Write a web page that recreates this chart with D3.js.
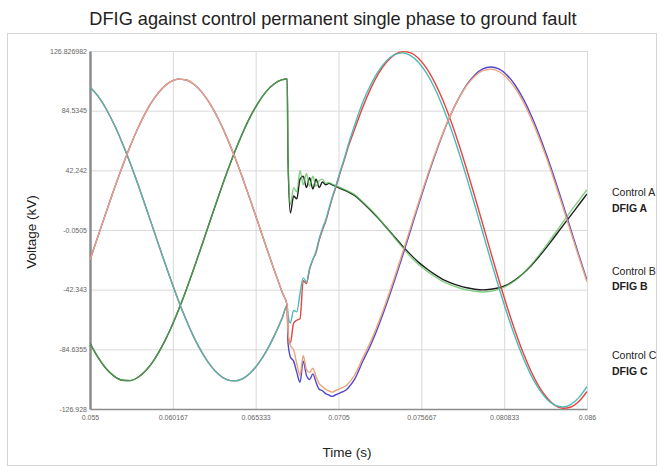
<!DOCTYPE html>
<html>
<head>
<meta charset="utf-8">
<script src="https://cdn.jsdelivr.net/npm/d3@7/dist/d3.min.js"></script>
<style>
  html, body { margin: 0; padding: 0; background: #ffffff; }
  svg { display: block; font-family: "Liberation Sans", Arial, sans-serif; }
</style>
</head>
<body>
<svg id="chart" width="664" height="472"></svg>
<script>
// ---- data -------------------------------------------------------------
// Pre-fault samples (seconds / kV): control and DFIG coincide here
const preTime = [0.0550,0.0555,0.0560,0.0565,0.0570,0.0575,0.0580,0.0585,0.0590,0.0595,
                 0.0600,0.0605,0.0610,0.0615,0.0620,0.0625,0.0630,0.0635,0.0640,0.0645,
                 0.0650,0.0655,0.0660,0.0665,0.0670,0.0673];
const preA = [-80.3,-90.3,-98.2,-103.6,-106.5,-106.8,-104.4,-99.5,-92.1,-82.4,
              -70.8,-57.3,-42.5,-26.6,-10.1,6.7,23.3,39.4,54.5,68.2,
              80.3,90.3,98.2,103.6,106.5,107.0];
const preB = [101.4,94.8,85.9,74.9,62.0,47.6,32.0,15.6,-1.1,-17.8,
              -34.1,-49.6,-63.8,-76.5,-87.2,-95.8,-102.1,-105.9,-107.0,-105.5,
              -101.4,-94.8,-85.9,-74.9,-62.0,-53.5];
const preC = [-21.2,-4.5,12.3,28.8,44.5,59.2,72.4,83.9,93.2,100.3,
              104.9,106.9,106.3,103.1,97.3,89.1,78.8,66.5,52.5,37.3,
              21.2,4.5,-12.3,-28.8,-44.5,-53.5];

// Post-fault samples
const postTime = [0.06735,0.0675,0.0677,0.0679,0.0681,0.0683,0.0685,0.0687,0.0689,0.0691,
                  0.0693,0.0695,0.0697,0.0699,0.0701,0.0703,0.0705,0.0707,0.0709,0.0711,
                  0.0715,0.0720,0.0725,0.0730,0.0735,0.0740,0.0745,0.0750,0.0755,0.0760,
                  0.0765,0.0770,0.0775,0.0780,0.0785,0.0790,0.0795,0.0800,0.0805,0.0810,
                  0.0815,0.0820,0.0825,0.0830,0.0835,0.0840,0.0845,0.0850,0.0855,0.0860];
const postControlA = [50,18,30,27,42,32,40,31,38,31,35,36,33,33.5,32.5,31.5,30.5,29.5,28.5,27.5,
                      25,20,14.5,8.5,1.5,-5.5,-12.5,-19,-24.5,-29,-33,-36.5,-39,-41,-42.5,-43.5,
                      -44,-43.5,-42,-39.5,-36,-31,-25,-18,-10.5,-2.5,5.5,13.5,21,28.5];
const postDfigA = [50,12,24,22,36,38,30,37,29,36,30,34,32,33,32,31,30,29,28,27,
                   24.5,19.5,14,8,1.5,-5,-11.5,-17.5,-23,-27.5,-31.5,-35,-37.5,-39.5,-41,-42,
                   -42.5,-42,-41,-39,-35.5,-31,-25.5,-19,-12,-4.5,3,10.5,18,25.5];
const postControlB = [-60,-66,-57,-58,-45,-34,-37,-27,-21,-15,-6,1,7,15,23,30,37.5,45,52,60,
                      74,90.1,102.7,112.7,120.0,124.2,125.5,123.6,118.7,110.9,100.4,87.3,72.2,55.2,36.9,17.7,
                      -2.0,-21.6,-40.6,-58.7,-75.4,-90.1,-102.7,-112.7,-120.0,-124.2,-125.5,-123.6,-118.7,-110.9];
const postDfigB = [-75,-80,-66,-64,-63,-36,-38,-28,-21,-16,-7,0,6,14,22,29,36.5,44,51,58.5,
                   71.1,86.6,100.0,110.9,119.0,124.3,126.4,125.5,121.5,114.5,104.6,92.2,77.5,60.9,42.8,23.7,
                   4.0,-15.9,-35.3,-53.9,-71.1,-86.6,-100.0,-110.9,-119.0,-124.3,-126.4,-125.5,-121.5,-114.5];
const postControlC = [-72,-82,-85,-95,-103,-89,-99,-101,-98,-104,-109,-111,-113,-114,-115,-114,-113,-112,-111,-109,
                      -103,-91.2,-79.3,-65.6,-50.2,-33.5,-16.1,1.8,19.6,36.9,53.3,68.4,81.9,93.3,102.4,109.0,
                      112.9,114.0,112.3,107.9,100.8,91.2,79.3,65.6,50.2,33.5,16.1,-1.8,-19.6,-36.9];
const postDfigC = [-80,-90,-93,-101,-108,-93,-103,-106,-102,-108,-113,-114,-116,-117,-118,-117,-116,-115,-114,-112,
                   -106,-93.4,-81.7,-67.9,-52.4,-35.7,-18.1,0,18.1,35.7,52.4,67.9,81.7,93.4,102.9,109.9,
                   114.1,115.5,114.1,109.9,102.9,93.4,81.7,67.9,52.4,35.7,18.1,0,-18.1,-35.7];

const seriesNames = ["Control A", "DFIG A", "Control B", "DFIG B", "Control C", "DFIG C"];
const xTickValues = [0.055, 0.060167, 0.065333, 0.0705, 0.075667, 0.080833, 0.086];
const xTickLabels = ["0.055", "0.060167", "0.065333", "0.0705", "0.075667", "0.080833", "0.086"];
const yTickValues = [126.826982, 84.5345, 42.242, -0.0505, -42.343, -84.6355, -126.928];
const yTickLabels = ["126.826982", "84.5345", "42.242", "-0.0505", "-42.343", "-84.6355", "-126.928"];

// ---- layout -----------------------------------------------------------
const svg = d3.select("#chart");
const plot = { left: 90, right: 587, top: 51, bottom: 409 };

const x = d3.scaleLinear().domain([0.055, 0.086]).range([plot.left, plot.right]);
const y = d3.scaleLinear().domain([-126.928, 126.826982]).range([plot.bottom, plot.top]);

// outer frame
svg.append("rect")
  .attr("x", 7.5).attr("y", 33.5).attr("width", 649).attr("height", 432)
  .attr("fill", "none").attr("stroke", "#d4d4d4").attr("stroke-width", 1);

// title
svg.append("text")
  .attr("x", 333).attr("y", 25)
  .attr("text-anchor", "middle")
  .attr("font-size", 18.2).attr("fill", "#222")
  .text("DFIG against control permanent single phase to ground fault");

// grid lines
const grid = svg.append("g").attr("class", "grid");
grid.append("g")
  .attr("transform", `translate(0,${plot.bottom})`)
  .call(d3.axisBottom(x).tickValues(xTickValues).tickSize(-(plot.bottom - plot.top)).tickFormat(""))
  .call(g => g.select(".domain").remove())
  .call(g => g.selectAll("line").attr("stroke", "#d9d9d9").attr("stroke-width", 1));
grid.append("g")
  .attr("transform", `translate(${plot.left},0)`)
  .call(d3.axisLeft(y).tickValues(yTickValues).tickSize(-(plot.right - plot.left)).tickFormat(""))
  .call(g => g.select(".domain").remove())
  .call(g => g.selectAll("line").attr("stroke", "#d9d9d9").attr("stroke-width", 1));

// axes
const xAxis = svg.append("g")
  .attr("transform", `translate(0,${plot.bottom})`)
  .call(d3.axisBottom(x).tickValues(xTickValues).tickSize(0).tickPadding(6)
        .tickFormat((d, i) => xTickLabels[i]));
xAxis.select(".domain").attr("stroke", "#8c8c8c").attr("stroke-width", 1.5);
xAxis.selectAll("text").attr("font-size", 7).attr("fill", "#666")
  .attr("font-family", "'Liberation Sans', Arial, sans-serif");

const yAxis = svg.append("g")
  .attr("transform", `translate(${plot.left},0)`)
  .call(d3.axisLeft(y).tickValues(yTickValues).tickSize(0).tickPadding(3)
        .tickFormat((d, i) => yTickLabels[i]));
yAxis.select(".domain").attr("stroke", "#8c8c8c").attr("stroke-width", 2.5);
yAxis.selectAll("text").attr("font-size", 7).attr("fill", "#666")
  .attr("font-family", "'Liberation Sans', Arial, sans-serif");

// axis titles
svg.append("text")
  .attr("transform", "translate(36,232) rotate(-90)")
  .attr("text-anchor", "middle")
  .attr("font-size", 13.5).attr("fill", "#222")
  .text("Voltage (kV)");
svg.append("text")
  .attr("x", 347).attr("y", 457)
  .attr("text-anchor", "middle")
  .attr("font-size", 13.5).attr("fill", "#222")
  .text("Time (s)");

// ---- series -----------------------------------------------------------
const allTime = preTime.concat(postTime);
const series = [
  { name: "DFIG A",    values: preA.concat(postDfigA),    color: "#1e1e1e", opacity: 1 },
  { name: "Control A", values: preA.concat(postControlA), color: "#58bf58", opacity: 0.75 },
  { name: "DFIG B",    values: preB.concat(postDfigB),    color: "#e5443f", opacity: 1 },
  { name: "Control B", values: preB.concat(postControlB), color: "#4fb8b6", opacity: 1 },
  { name: "DFIG C",    values: preC.concat(postDfigC),    color: "#5346cf", opacity: 1 },
  { name: "Control C", values: preC.concat(postControlC), color: "#eca477", opacity: 1 }
];

const line = d3.line()
  .x((d, i) => x(allTime[i]))
  .y(d => y(d))
  .curve(d3.curveMonotoneX);

svg.append("clipPath").attr("id", "plot-clip")
  .append("rect")
  .attr("x", plot.left).attr("y", plot.top - 2)
  .attr("width", plot.right - plot.left).attr("height", plot.bottom - plot.top + 2);

svg.append("g").attr("clip-path", "url(#plot-clip)")
  .selectAll("path")
  .data(series)
  .join("path")
  .attr("d", d => line(d.values))
  .attr("fill", "none")
  .attr("stroke", d => d.color)
  .attr("stroke-opacity", d => d.opacity)
  .attr("stroke-width", 1.4)
  .attr("stroke-linejoin", "round");

// ---- legend -----------------------------------------------------------
const legendRows = [
  { label: seriesNames[0], y: 196, bold: false },
  { label: seriesNames[1], y: 212, bold: true },
  { label: seriesNames[2], y: 275, bold: false },
  { label: seriesNames[3], y: 290, bold: true },
  { label: seriesNames[4], y: 359, bold: false },
  { label: seriesNames[5], y: 375, bold: true }
];
svg.append("g").selectAll("text")
  .data(legendRows)
  .join("text")
  .attr("x", 612)
  .attr("y", d => d.y)
  .attr("font-size", 10.5)
  .attr("font-weight", d => d.bold ? "bold" : "normal")
  .attr("fill", "#222")
  .text(d => d.label);
</script>
</body>
</html>
